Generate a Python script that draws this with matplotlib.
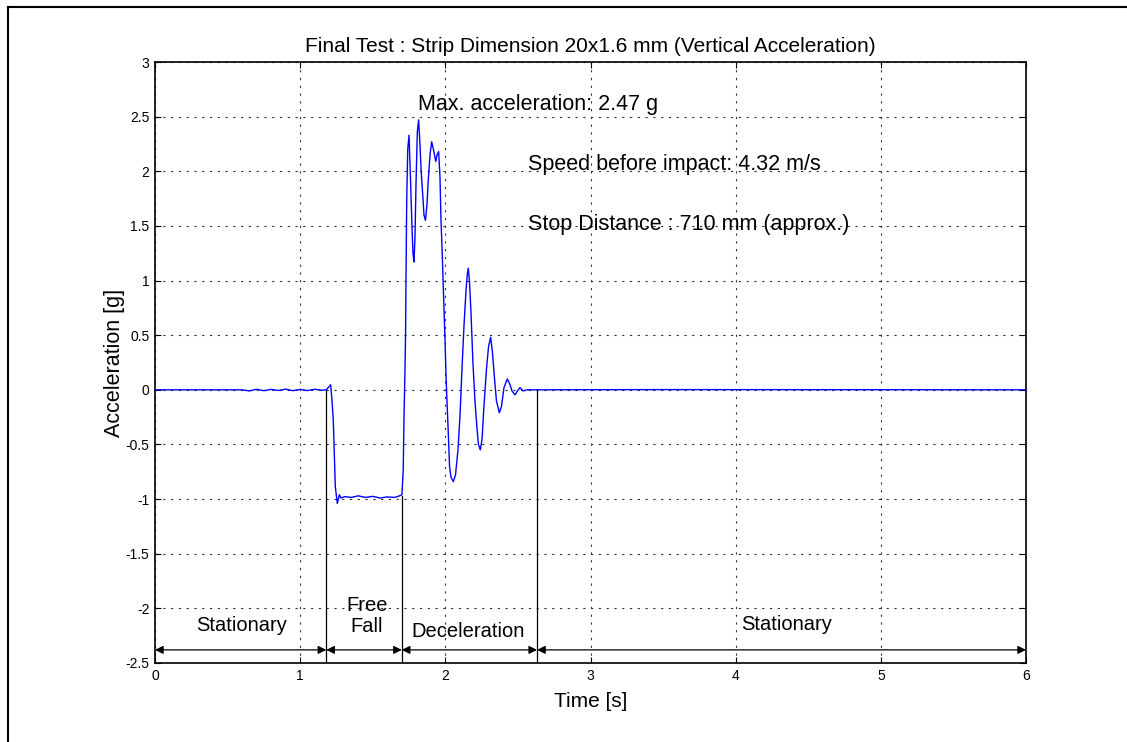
import matplotlib
matplotlib.use("Agg")
import matplotlib.pyplot as plt
from matplotlib.lines import Line2D

plt.rcParams['font.family'] = ['Liberation Sans', 'DejaVu Sans']

# ---- data ----
time_s = [0.0, 0.60, 0.65, 0.70, 0.75, 0.80, 0.85, 0.90, 0.95, 1.00, 1.05, 1.10,
          1.15, 1.18, 1.21, 1.217, 1.228, 1.235, 1.242, 1.256, 1.270, 1.281,
          1.309, 1.35, 1.40, 1.45, 1.50, 1.55, 1.60, 1.65, 1.685, 1.701,
          1.710, 1.715, 1.722, 1.726, 1.729, 1.734, 1.741, 1.750, 1.761,
          1.770, 1.777, 1.784, 1.791, 1.798, 1.807, 1.816, 1.825, 1.834,
          1.846, 1.853, 1.863, 1.874, 1.881, 1.895, 1.906, 1.918, 1.934,
          1.943, 1.954, 1.963, 1.970, 1.980, 1.991, 1.998, 2.005, 2.011,
          2.022, 2.029, 2.039, 2.055, 2.070, 2.087, 2.101, 2.115, 2.129,
          2.142, 2.151, 2.158, 2.166, 2.177, 2.190, 2.204, 2.218, 2.228,
          2.241, 2.253, 2.266, 2.284, 2.298, 2.312, 2.324, 2.339, 2.352,
          2.372, 2.387, 2.404, 2.427, 2.445, 2.459, 2.480, 2.497, 2.514,
          2.535, 2.563, 2.632, 3.5, 6.0]
accel_g = [0.0, 0.0, -0.01, 0.005, -0.008, 0.004, -0.006, 0.006, -0.008, 0.004,
           -0.007, 0.005, -0.004, 0.0, 0.046, -0.06, -0.27, -0.58, -0.885,
           -1.04, -0.96, -0.99, -0.977, -0.985, -0.97, -0.985, -0.975, -0.99,
           -0.98, -0.985, -0.97, -0.96, -0.73, -0.27, 0.18, 0.50, 1.01, 1.74,
           2.20, 2.33, 1.89, 1.50, 1.25, 1.17, 1.40, 1.89, 2.36, 2.47, 2.25,
           1.99, 1.75, 1.60, 1.55, 1.70, 1.89, 2.16, 2.27, 2.20, 2.09, 2.15,
           2.18, 1.95, 1.56, 1.19, 0.73, 0.45, 0.12, -0.09, -0.45, -0.70,
           -0.80, -0.84, -0.78, -0.55, -0.24, 0.20, 0.60, 0.90, 1.05, 1.113,
           1.0, 0.70, 0.25, -0.10, -0.35, -0.50, -0.55, -0.45, -0.15, 0.20,
           0.40, 0.48, 0.35, 0.10, -0.10, -0.21, -0.15, 0.02, 0.10, 0.05,
           -0.01, -0.046, -0.01, 0.02, -0.01, 0.0, 0.0, 0.002, 0.0]

phase_bounds = [0.0, 1.18, 1.70, 2.632, 6.0]
bound_tops = [0.0, -0.97, 0.0]          # where each boundary line meets the signal
phase_labels = ["Stationary", "Free\nFall", "Deceleration", "Stationary"]
phase_label_x = [0.597, 1.458, 2.156, 4.354]
phase_label_y = [-2.16, -2.07, -2.215, -2.15]
arrow_level = -2.38

x_ticks = [0, 1, 2, 3, 4, 5, 6]
y_ticks = [-2.5, -2, -1.5, -1, -0.5, 0, 0.5, 1, 1.5, 2, 2.5, 3]
y_tick_labels = ["-2.5", "-2", "-1.5", "-1", "-0.5", "0", "0.5", "1", "1.5", "2", "2.5", "3"]

notes = ["Max. acceleration: 2.47 g", "Speed before impact: 4.32 m/s",
         "Stop Distance : 710 mm (approx.)"]
notes_x = [1.812, 2.569, 2.569]
notes_y = [2.61, 2.06, 1.51]

title = "Final Test : Strip Dimension 20x1.6 mm (Vertical Acceleration)"

# ---- figure ----
W, H = 1127, 742
fig = plt.figure(figsize=(W / 100, H / 100), dpi=100, facecolor='white')
ax = fig.add_axes([155 / W, 1 - 663 / H, (1026 - 155) / W, (663 - 62) / H])

# figure border (left and top)
fig.add_artist(Line2D([8 / W, 8 / W], [0, 1 - 7 / H], transform=fig.transFigure,
                      color='black', lw=1.5))
fig.add_artist(Line2D([8 / W, 1.0], [1 - 7 / H, 1 - 7 / H], transform=fig.transFigure,
                      color='black', lw=1.5))

ax.plot(time_s, accel_g, color='#0000ff', lw=1.0, zorder=3)

ax.set_xlim(0, 6)
ax.set_ylim(-2.5, 3)
ax.set_xticks(x_ticks)
ax.set_xticklabels([str(v) for v in x_ticks])
ax.set_yticks(y_ticks)
ax.set_yticklabels(y_tick_labels)
ax.tick_params(direction='in', length=4.5, width=0.8, top=True, right=True,
               labelsize=10, pad=4)
for s in ax.spines.values():
    s.set_linewidth(1.2)

ax.grid(True, color='#333333', lw=0.8, linestyle=(0, (2, 5)))
ax.set_axisbelow(True)

# phase boundaries
for b, top in zip(phase_bounds[1:-1], bound_tops):
    ax.plot([b, b], [-2.5, top], color='black', lw=0.9, zorder=2)

# phase arrows
for a0, a1 in zip(phase_bounds[:-1], phase_bounds[1:]):
    ax.annotate("", xy=(a1, arrow_level), xytext=(a0, arrow_level),
                arrowprops=dict(arrowstyle='<|-|>', color='black', lw=0.9,
                                mutation_scale=12, shrinkA=0, shrinkB=0))

for lab, lx, ly in zip(phase_labels, phase_label_x, phase_label_y):
    ax.text(lx, ly, lab, ha='center', va='center', fontsize=14.5,
            linespacing=1.15)

for n, nx, ny in zip(notes, notes_x, notes_y):
    ax.text(nx, ny, n, ha='left', va='center', fontsize=15.5)

ax.set_title(title, fontsize=15, pad=7)
ax.set_xlabel("Time [s]", fontsize=15, labelpad=7)
ax.set_ylabel("Acceleration [g]", fontsize=15.5, labelpad=0)

fig.savefig("out.png", dpi=100, facecolor='white')
